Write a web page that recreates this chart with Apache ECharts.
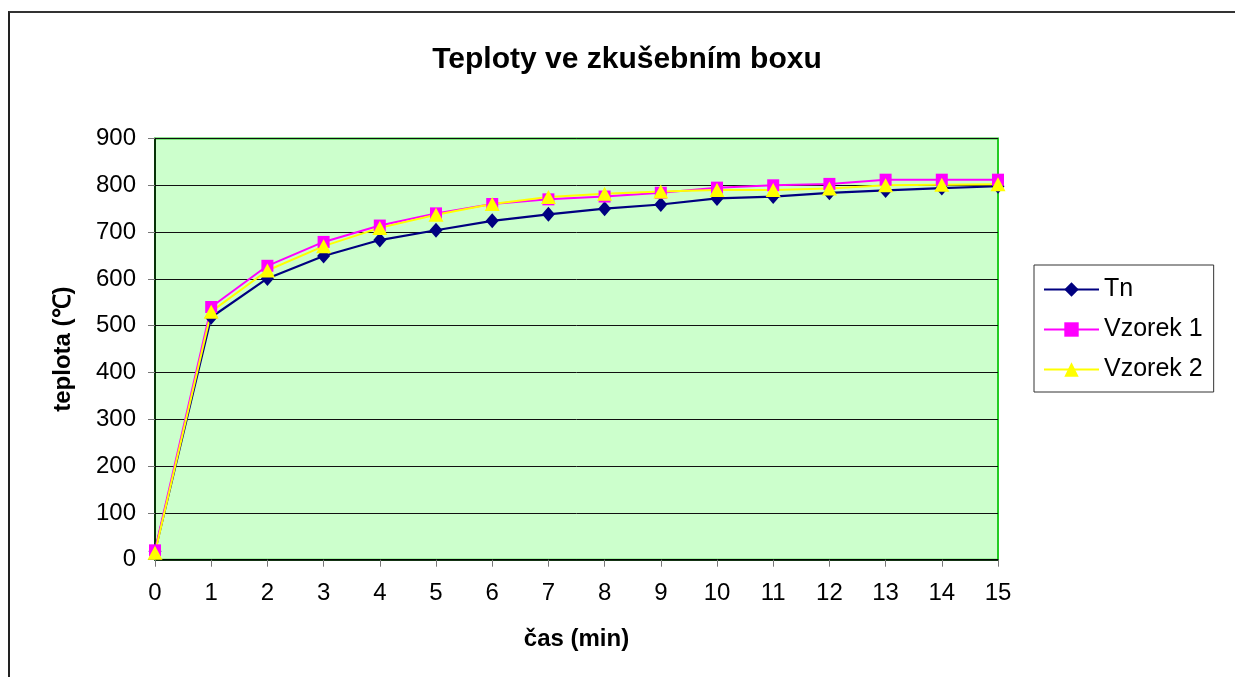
<!DOCTYPE html>
<html>
<head>
<meta charset="utf-8">
<script src="https://cdn.jsdelivr.net/npm/echarts@6/dist/echarts.min.js"></script>
<style>
html,body{margin:0;padding:0;background:#fff;overflow:hidden;}
#frame{position:absolute;left:8px;top:11px;width:1240px;height:700px;border-left:2px solid #222;border-top:2px solid #333;box-sizing:border-box;}
#chart{position:absolute;left:0;top:0;width:1235px;height:677px;}
</style>
</head>
<body>
<div id="frame"></div>
<div id="chart"></div>
<script>
const times = [0,1,2,3,4,5,6,7,8,9,10,11,12,13,14,15];
const tn = [18, 518, 601, 649, 683, 704, 724, 738, 750, 759, 772, 776, 784, 789, 794, 798];
const vzorek1 = [20, 540, 628, 679, 714, 740, 760, 770, 776, 784, 795, 800, 803, 812, 812, 812];
const vzorek2 = [15, 530, 618, 670, 709, 737, 760, 775, 782, 787, 790, 790, 793, 800, 801, 802];
const seriesNames = ['Tn','Vzorek 1','Vzorek 2'];

const pairs = arr => times.map((t,i)=>[t,arr[i]]);
const font = 'Liberation Sans, Arial, sans-serif';
const chart = echarts.init(document.getElementById('chart'), null, {renderer:'canvas'});
chart.setOption({
  animation:false,
  backgroundColor:'transparent',
  title:{text:'Teploty ve zkušebním boxu',left:622,top:40,textAlign:'center',
    textStyle:{fontFamily:font,fontSize:30,fontWeight:'bold',color:'#000'}},
  grid:{left:155,right:237,top:138.5,bottom:117.3,show:true,backgroundColor:'#ccffcc',borderColor:'#22cc22',borderWidth:2},
  legend:{orient:'vertical',left:1034,top:265,padding:[12,11,10,9],itemGap:15,
    itemWidth:55,itemHeight:18,borderColor:'#333',borderWidth:1,backgroundColor:'#fff',
    textStyle:{fontFamily:font,fontSize:25,color:'#000',padding:[0,0,0,0]},data:seriesNames},
  xAxis:{type:'value',min:0,max:15,interval:1,name:'čas (min)',nameLocation:'middle',nameGap:68,
    nameTextStyle:{fontFamily:font,fontSize:24,fontWeight:'bold',color:'#000'},
    axisLine:{show:true,lineStyle:{color:'#000',width:1.5}},axisTick:{show:true,length:7,lineStyle:{color:'#777'}},
    axisLabel:{fontFamily:font,fontSize:24,color:'#000',margin:22},splitLine:{show:false}},
  yAxis:{type:'value',min:0,max:900,interval:100,name:'teplota (℃)',nameLocation:'middle',nameGap:80,
    nameTextStyle:{fontFamily:font,fontSize:24,fontWeight:'bold',color:'#000'},
    axisLine:{show:true,lineStyle:{color:'#000',width:1.5}},axisTick:{show:true,length:7,lineStyle:{color:'#777'}},
    axisLabel:{fontFamily:font,fontSize:24,color:'#000',margin:19},
    splitLine:{show:true,lineStyle:{color:'#111',width:1}}},
  series:[
    {name:'Tn',type:'line',data:pairs(tn),symbol:'diamond',symbolSize:[13,15],
      lineStyle:{color:'#000080',width:2.2},itemStyle:{color:'#000080'}},
    {name:'Vzorek 1',type:'line',data:pairs(vzorek1),symbol:'rect',symbolSize:12,
      lineStyle:{color:'#ff00ff',width:2},itemStyle:{color:'#ff00ff'}},
    {name:'Vzorek 2',type:'line',data:pairs(vzorek2),symbol:'triangle',symbolSize:[15,14],
      lineStyle:{color:'#ffff00',width:2},itemStyle:{color:'#ffff00'}}
  ]
});
</script>
</body>
</html>
